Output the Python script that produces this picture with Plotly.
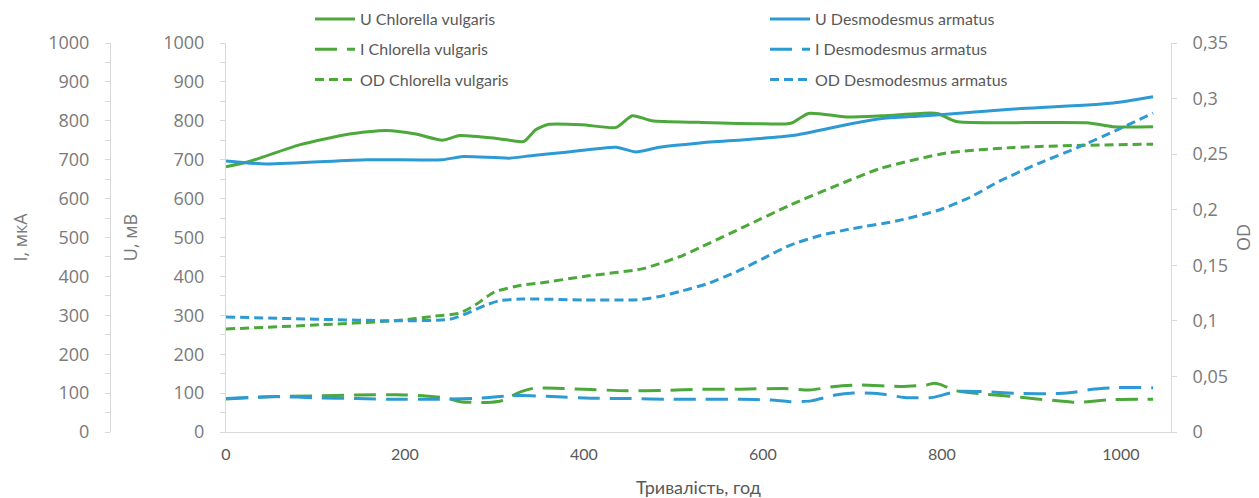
import plotly.graph_objects as go

# ---------------- data ----------------
t_u_chl = [0, 27, 82, 138, 179, 212, 242, 261, 305, 333, 346, 361, 398, 436, 454, 476, 528, 625, 633, 651, 693, 733, 787, 796, 816, 861, 962, 991, 1036]
u_chl = [682, 696, 738, 766, 775, 766, 750, 762, 754, 747, 777, 791, 790, 783, 813, 800, 796, 792, 795, 819, 810, 813, 820, 818, 798, 795, 795, 785, 785]

t_u_des = [0, 45, 157, 242, 265, 317, 343, 380, 436, 458, 484, 530, 633, 693, 731, 773, 805, 873, 988, 1036]
u_des = [697, 689, 700, 700, 708, 704, 711, 719, 732, 720, 732, 743, 762, 790, 805, 812, 817, 829, 845, 862]

t_i_chl = [0, 40, 100, 146, 191, 220, 247, 262, 277, 291, 306, 330, 345, 358, 400, 447, 492, 530, 575, 623, 652, 680, 709, 754, 783, 790, 797, 816, 850, 876, 906, 935, 950, 963, 990, 1036]
i_chl = [85, 90, 93, 95, 96, 93, 87, 78, 76, 76, 79, 104, 113, 113, 110, 106, 107, 110, 110, 112, 108, 117, 121, 117, 121, 125, 123, 106, 97, 92, 85, 79, 76, 78, 83, 84]

t_i_des = [0, 56, 101, 146, 191, 232, 276, 306, 330, 364, 408, 452, 496, 530, 575, 610, 630, 654, 681, 701, 728, 758, 790, 816, 842, 885, 930, 950, 968, 995, 1036]
i_des = [86, 91, 88, 86, 84, 84, 86, 91, 94, 91, 87, 86, 84, 84, 84, 82, 78, 80, 95, 100, 99, 89, 89, 104, 104, 99, 99, 103, 110, 114, 114]

t_od_chl = [0, 94, 194, 231, 261, 278, 300, 330, 351, 400, 466, 511, 530, 580, 630, 680, 731, 805, 880, 960, 1036]
od_chl = [0.0927, 0.096, 0.1005, 0.104, 0.107, 0.114, 0.126, 0.132, 0.134, 0.140, 0.147, 0.159, 0.166, 0.185, 0.204, 0.221, 0.237, 0.251, 0.256, 0.258, 0.259]

t_od_des = [0, 100, 194, 250, 270, 290, 305, 330, 400, 460, 485, 510, 540, 570, 600, 630, 665, 700, 750, 798, 831, 865, 909, 952, 999, 1036]
od_des = [0.1035, 0.1015, 0.100, 0.1014, 0.107, 0.114, 0.118, 0.1197, 0.1188, 0.1190, 0.122, 0.127, 0.134, 0.144, 0.156, 0.168, 0.177, 0.183, 0.190, 0.200, 0.211, 0.226, 0.242, 0.256, 0.273, 0.287]

x_ticks = [0, 200, 400, 600, 800, 1000]

GREEN = "#4CA83B"
BLUE = "#2E9AD4"

# page body has an 8px margin, so the figure sits at (8, 8)
OFF = 8
FW, FH = 1259 - OFF, 498 - OFF


def px(x):
    return (x - OFF) / FW


def py(y):
    return 1 - (y - OFF) / FH


LONG = "22px,10px"
SHORT = "9px,5px"

series = [
    ("U Chlorella vulgaris", t_u_chl, u_chl, GREEN, "solid", "y", "legend"),
    ("I Chlorella vulgaris", t_i_chl, i_chl, GREEN, LONG, "y2", "legend"),
    ("OD Chlorella vulgaris", t_od_chl, od_chl, GREEN, SHORT, "y3", "legend"),
    ("U Desmodesmus armatus", t_u_des, u_des, BLUE, "solid", "y", "legend2"),
    ("I Desmodesmus armatus", t_i_des, i_des, BLUE, LONG, "y2", "legend2"),
    ("OD Desmodesmus armatus", t_od_des, od_des, BLUE, SHORT, "y3", "legend2"),
]

fig = go.Figure()
for i, (name, xs, ys, col, dash, yax, leg) in enumerate(series):
    fig.add_trace(go.Scatter(
        x=xs, y=ys, name=name, mode="lines", yaxis=yax, legend=leg,
        legendgroup=f"g{i}",
        line=dict(color=col, width=3, dash=dash, shape="spline", smoothing=0.6),
    ))

TICK_FONT = dict(family="Open Sans, sans-serif", size=18, color="#7A7A7A")
TITLE_FONT = dict(family="Open Sans, sans-serif", size=18, color="#7A7A7A")
NARROW = "Lato, sans-serif"
AX_COL = "#D9D9D9"

common_y = dict(
    range=[0, 1000], dtick=100, showgrid=False, zeroline=False,
    showline=True, linecolor=AX_COL, linewidth=1,
    ticks="outside", ticklen=5, tickcolor=AX_COL, ticklabelstandoff=12,
    minor=dict(dtick=50, ticks="outside", ticklen=5, tickcolor=AX_COL, showgrid=False),
    tickfont=TICK_FONT, domain=[py(432), py(43)],
)

legend_common = dict(
    y=1 + 6 / FH, xanchor="left", yanchor="top",
    orientation="v", traceorder="grouped", tracegroupgap=6.5,
    itemwidth=40, bgcolor="rgba(0,0,0,0)",
    font=dict(family=NARROW, size=16, color="#595959"),
)

fig.update_layout(
    width=FW, height=FH,
    margin=dict(l=0, r=0, t=0, b=0, autoexpand=False),
    plot_bgcolor="white", paper_bgcolor="white",
    separators=", ",
    showlegend=True,
    xaxis=dict(
        domain=[px(226), px(1171)], range=[0, 1056], tickvals=x_ticks,
        showgrid=False, zeroline=False, showline=True, linecolor=AX_COL, linewidth=1,
        ticks="", ticklabelstandoff=8,
        tickfont=dict(family=NARROW, size=16, color="#595959"),
        title=dict(text="Тривалість, год", font=dict(family=NARROW, size=18, color="#595959"), standoff=20),
    ),
    yaxis=dict(
        **common_y,
        anchor="x", side="left",
        title=dict(text="U, мВ", font=TITLE_FONT, standoff=20),
    ),
    yaxis2=dict(
        **common_y,
        overlaying="y", anchor="free", position=px(110), side="left",
        title=dict(text="I, мкА", font=TITLE_FONT, standoff=17),
    ),
    yaxis3=dict(
        range=[0, 0.35], dtick=0.05, showgrid=False, zeroline=False,
        overlaying="y", anchor="x", side="right",
        showline=True, linecolor=AX_COL, linewidth=1,
        ticks="outside", ticklen=5, tickcolor=AX_COL, ticklabelstandoff=12,
        tickfont=TICK_FONT, domain=[py(432), py(43)],
        title=dict(text="OD", font=TITLE_FONT, standoff=10),
    ),
    legend=dict(x=px(310), **legend_common),
    legend2=dict(x=px(765), **legend_common),
)

fig.write_html("out.html")
